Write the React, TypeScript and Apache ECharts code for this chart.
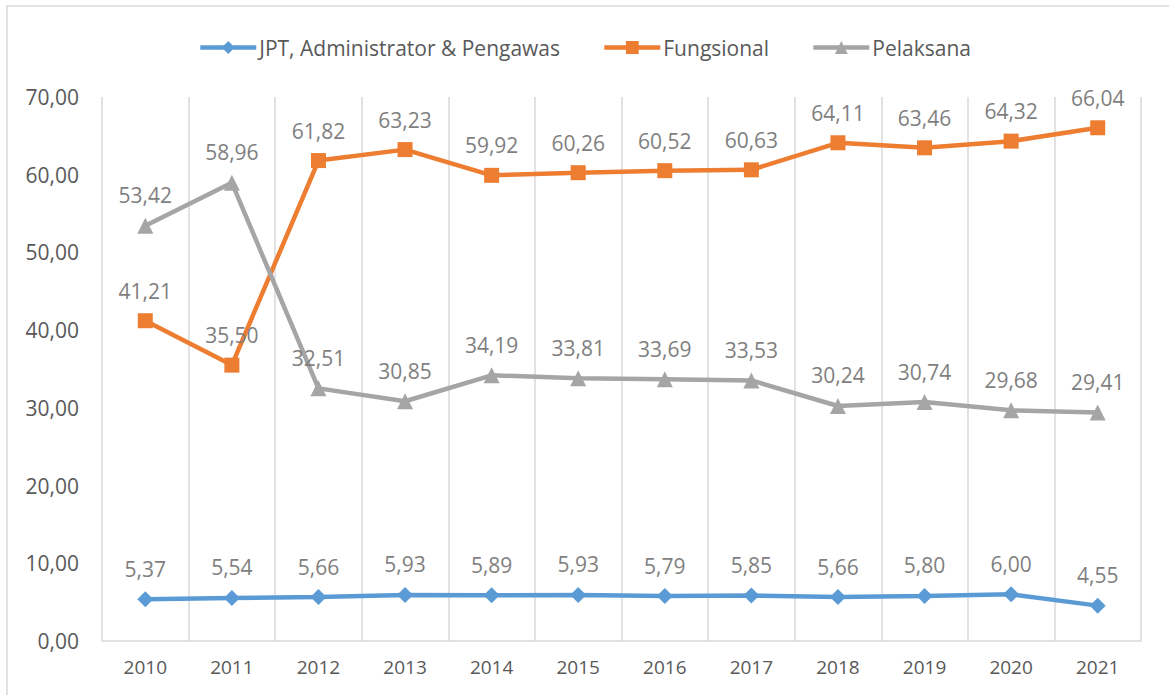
import React, { useEffect, useRef } from "react";
import * as echarts from "echarts";

const years = ["2010", "2011", "2012", "2013", "2014", "2015", "2016", "2017", "2018", "2019", "2020", "2021"];
const jpt = [5.37, 5.54, 5.66, 5.93, 5.89, 5.93, 5.79, 5.85, 5.66, 5.8, 6.0, 4.55];
const fungsional = [41.21, 35.5, 61.82, 63.23, 59.92, 60.26, 60.52, 60.63, 64.11, 63.46, 64.32, 66.04];
const pelaksana = [53.42, 58.96, 32.51, 30.85, 34.19, 33.81, 33.69, 33.53, 30.24, 30.74, 29.68, 29.41];
const seriesNames = ["JPT, Administrator & Pengawas", "Fungsional", "Pelaksana"];
const yTicks = { min: 0, max: 70, interval: 10 };

const fmt = (v: number) => v.toFixed(2).replace(".", ",");
const FONT = "'Open Sans', 'Noto Sans', sans-serif";

export default function App() {
  const ref = useRef<HTMLDivElement>(null);
  useEffect(() => {
    document.body.style.margin = "0";
    const chart = echarts.init(ref.current!, null, { renderer: "svg" });
    const mk = (name: string, data: number[], color: string, symbol: string, size: number) => ({
      name,
      type: "line",
      data,
      symbol,
      symbolSize: size,
      itemStyle: { color },
      lineStyle: { color, width: 4.5 },
      label: {
        show: true,
        position: "top",
        distance: 12,
        fontSize: 21,
        fontFamily: FONT,
        color: "#7f7f7f",
        formatter: (p: any) => fmt(p.value),
      },
    });
    chart.setOption({
      animation: false,
      textStyle: { fontFamily: FONT },
      graphic: [
        {
          type: "rect",
          shape: { x: 7, y: 6, width: 1300, height: 800 },
          style: { fill: "none", stroke: "#d9d9d9", lineWidth: 1.5 },
          silent: true,
          z: -1,
        },
      ],
      legend: {
        top: 32,
        left: "center",
        itemWidth: 56,
        itemHeight: 16,
        itemGap: 42,
        lineStyle: { width: 4.5 },
        textStyle: { fontSize: 21, color: "#595959", fontFamily: FONT, padding: [0, 0, 0, -2] },
        data: seriesNames.map((name) => ({ name, lineStyle: { width: 4.5 } })),
      },
      grid: { left: 102, right: 28, top: 97, bottom: 54 },
      xAxis: {
        type: "category",
        data: years,
        boundaryGap: true,
        axisLine: { show: true, lineStyle: { color: "#d9d9d9", width: 1.5 } },
        axisTick: { show: false },
        splitLine: { show: true, interval: 0, lineStyle: { color: "#d9d9d9", width: 1.5 } },
        axisLabel: { fontSize: 19, color: "#595959", margin: 16, fontFamily: FONT, interval: 0 },
      },
      yAxis: {
        type: "value",
        min: yTicks.min,
        max: yTicks.max,
        interval: yTicks.interval,
        axisLine: { show: false },
        axisTick: { show: false },
        splitLine: { show: false },
        axisLabel: { fontSize: 21, color: "#595959", margin: 23, fontFamily: FONT, formatter: (v: number) => fmt(v) },
      },
      series: [
        mk(seriesNames[0], jpt, "#5b9bd5", "diamond", 16),
        mk(seriesNames[1], fungsional, "#ed7d31", "rect", 15),
        mk(seriesNames[2], pelaksana, "#a5a5a5", "triangle", 16),
      ],
    });
    return () => chart.dispose();
  }, []);
  return <div ref={ref} style={{ width: 1169, height: 695 }} />;
}
